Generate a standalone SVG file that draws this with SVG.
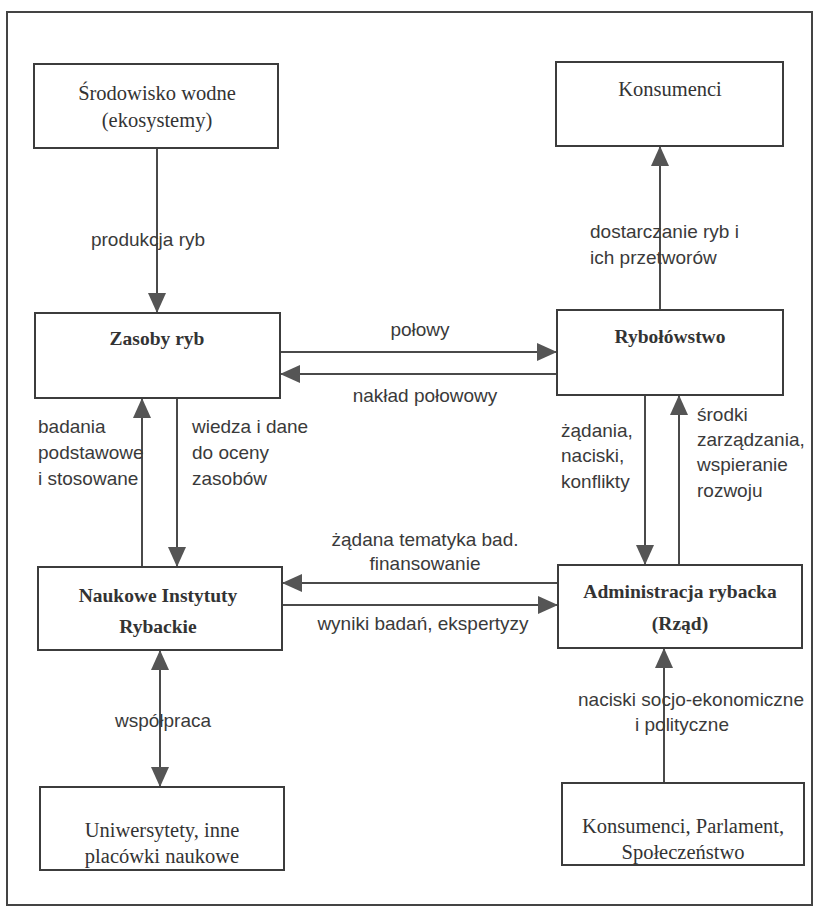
<svg xmlns="http://www.w3.org/2000/svg" width="819" height="908" viewBox="0 0 819 908">
<defs>
<marker id="ah" markerUnits="userSpaceOnUse" markerWidth="20" markerHeight="18" refX="20" refY="9" orient="auto-start-reverse">
<path d="M0,0 L20,9 L0,18 Z" fill="#555"/>
</marker>
<style>
.box{fill:#fff;stroke:#3c3c3c;stroke-width:2}
.t{font-family:"Liberation Serif","Times New Roman",serif;font-size:20.5px;fill:#333;text-anchor:middle}
.b{font-family:"Liberation Serif","Times New Roman",serif;font-size:19.5px;font-weight:bold;fill:#333;text-anchor:middle}
.l{font-family:"Liberation Sans",Arial,sans-serif;font-size:19px;fill:#3a3a3a}
.m{text-anchor:middle}
.c{stroke:#4a4a4a;stroke-width:2;fill:none;marker-end:url(#ah)}
</style>
</defs>
<rect x="0" y="0" width="819" height="908" fill="#fff"/>
<rect x="7" y="12" width="805" height="893" fill="none" stroke="#444" stroke-width="2"/>

<g id="connectors">
<line class="c" x1="157" y1="148" x2="157" y2="313"/>
<line class="c" x1="660" y1="310" x2="660" y2="146"/>
<line class="c" x1="280" y1="352" x2="557" y2="352"/>
<line class="c" x1="557" y1="374" x2="280" y2="374"/>
<line class="c" x1="142" y1="567" x2="142" y2="398"/>
<line class="c" x1="177" y1="398" x2="177" y2="567"/>
<line class="c" x1="645" y1="395" x2="645" y2="565"/>
<line class="c" x1="679" y1="565" x2="679" y2="395"/>
<line class="c" x1="558" y1="583" x2="282" y2="583"/>
<line class="c" x1="282" y1="605" x2="558" y2="605"/>
<line class="c" x1="160" y1="650" x2="160" y2="787" marker-start="url(#ah)"/>
<line class="c" x1="664" y1="783" x2="664" y2="648"/>
<text class="l m" x="148" y="246">produkcja ryb</text>
<text class="l" x="590" y="238">dostarczanie ryb i</text>
<text class="l" x="590" y="264">ich przetworów</text>
<text class="l m" x="420" y="336">połowy</text>
<text class="l m" x="425" y="402">nakład połowowy</text>
<text class="l" x="38" y="433">badania</text>
<text class="l" x="38" y="459">podstawowe</text>
<text class="l" x="38" y="485">i stosowane</text>
<text class="l" x="192" y="433">wiedza i dane</text>
<text class="l" x="192" y="459">do oceny</text>
<text class="l" x="192" y="485">zasobów</text>
<text class="l" x="561" y="437">żądania,</text>
<text class="l" x="561" y="462">naciski,</text>
<text class="l" x="561" y="488">konflikty</text>
<text class="l" x="697" y="421">środki</text>
<text class="l" x="697" y="446">zarządzania,</text>
<text class="l" x="697" y="471">wspieranie</text>
<text class="l" x="697" y="497">rozwoju</text>
<text class="l m" x="425" y="546">żądana tematyka bad.</text>
<text class="l m" x="425" y="570">finansowanie</text>
<text class="l m" x="423" y="630">wyniki badań, ekspertyzy</text>
<text class="l m" x="163" y="727">współpraca</text>
<text class="l m" x="691" y="706">naciski socjo-ekonomiczne</text>
<text class="l m" x="682" y="731">i polityczne</text>
</g>

<g id="srodowisko">
<rect class="box" x="34" y="64" width="244" height="84"/>
<text class="t" x="157" y="100">Środowisko wodne</text>
<text class="t" x="157" y="127">(ekosystemy)</text>
</g>
<g id="konsumenci">
<rect class="box" x="556" y="62" width="227" height="84"/>
<text class="t" x="670" y="96">Konsumenci</text>
</g>
<g id="zasoby">
<rect class="box" x="35" y="313" width="245" height="85"/>
<text class="b" x="157" y="345">Zasoby ryb</text>
</g>
<g id="rybolowstwo">
<rect class="box" x="557" y="310" width="226" height="85"/>
<text class="b" x="670" y="343">Rybołówstwo</text>
</g>
<g id="naukowe">
<rect class="box" x="38" y="567" width="244" height="83"/>
<text class="b" x="158" y="602">Naukowe Instytuty</text>
<text class="b" x="158" y="633">Rybackie</text>
</g>
<g id="administracja">
<rect class="box" x="558" y="565" width="244" height="83"/>
<text class="b" x="680" y="598">Administracja rybacka</text>
<text class="b" x="680" y="630">(Rząd)</text>
</g>
<g id="uniwersytety">
<rect class="box" x="40" y="787" width="244" height="83"/>
<text class="t" x="162" y="837">Uniwersytety, inne</text>
<text class="t" x="162" y="863">placówki naukowe</text>
</g>
<g id="spoleczenstwo">
<rect class="box" x="562" y="783" width="242" height="82"/>
<text class="t" x="683" y="833">Konsumenci, Parlament,</text>
<text class="t" x="683" y="859">Społeczeństwo</text>
</g>
</svg>
